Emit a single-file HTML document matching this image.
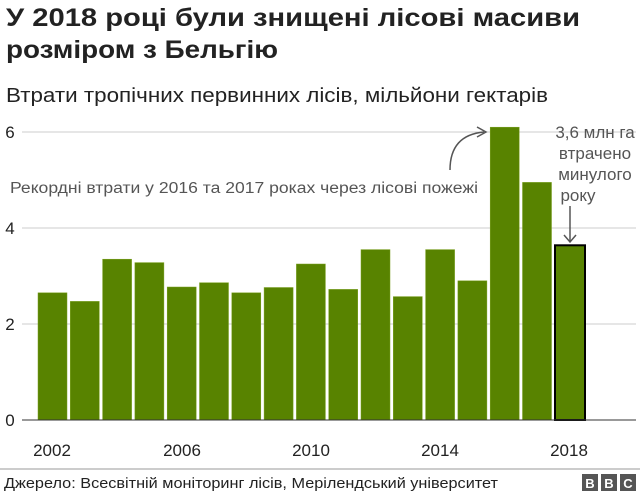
<!DOCTYPE html>
<html><head><meta charset="utf-8"><style>
body{margin:0;width:640px;height:493px;background:#fff;overflow:hidden;font-family:"Liberation Sans",Arial,sans-serif}
</style></head><body>
<svg width="640" height="493" xmlns="http://www.w3.org/2000/svg" font-family="Liberation Sans, Arial, sans-serif">
<text x="6" y="26" font-size="25" font-weight="bold" fill="#222" textLength="574" lengthAdjust="spacingAndGlyphs">У 2018 році були знищені лісові масиви</text>
<text x="6" y="58" font-size="25" font-weight="bold" fill="#222" textLength="272" lengthAdjust="spacingAndGlyphs">розміром з Бельгію</text>
<text x="6" y="102" font-size="20" fill="#222" textLength="542" lengthAdjust="spacingAndGlyphs">Втрати тропічних первинних лісів, мільйони гектарів</text>
<g stroke="#ccc" stroke-width="1">
<line x1="22" x2="636" y1="132" y2="132"/><line x1="22" x2="636" y1="228" y2="228"/><line x1="22" x2="636" y1="324" y2="324"/>
</g>
<g font-size="17" fill="#222" text-anchor="middle">
<text x="10" y="138">6</text><text x="10" y="234">4</text><text x="10" y="330">2</text><text x="10" y="426">0</text>
</g>
<g fill="#588300" stroke="#7aa020" stroke-width="0.5">
<rect x="38" y="292.8" width="29" height="127.2"/>
<rect x="70.3" y="301.4" width="29" height="118.6"/>
<rect x="102.6" y="259.2" width="29" height="160.8"/>
<rect x="134.9" y="262.6" width="29" height="157.4"/>
<rect x="167.2" y="287" width="29" height="133"/>
<rect x="199.5" y="282.7" width="29" height="137.3"/>
<rect x="231.8" y="292.8" width="29" height="127.2"/>
<rect x="264.1" y="287.5" width="29" height="132.5"/>
<rect x="296.4" y="264" width="29" height="156"/>
<rect x="328.7" y="289.4" width="29" height="130.6"/>
<rect x="361" y="249.6" width="29" height="170.4"/>
<rect x="393.3" y="296.6" width="29" height="123.4"/>
<rect x="425.6" y="249.6" width="29" height="170.4"/>
<rect x="457.9" y="280.8" width="29" height="139.2"/>
<rect x="490.2" y="127.2" width="29" height="292.8"/>
<rect x="522.5" y="182.4" width="29" height="237.6"/>
</g>
<rect x="555" y="245.3" width="30" height="174.7" fill="#588300" stroke="#000" stroke-width="2"/>
<line x1="22" x2="636" y1="420" y2="420" stroke="#333" stroke-width="1"/>
<g font-size="17" fill="#222" text-anchor="middle">
<text x="52" y="456">2002</text><text x="182" y="456">2006</text><text x="311" y="456">2010</text><text x="440" y="456">2014</text><text x="569" y="456">2018</text>
</g>
<text x="10" y="193" font-size="15.5" fill="#555" textLength="468" lengthAdjust="spacingAndGlyphs">Рекордні втрати у 2016 та 2017 роках через лісові пожежі</text>
<path d="M450 170 Q450 135 484 132" fill="none" stroke="#555" stroke-width="1.5"/>
<path d="M477 127 L486 132 L477 137" fill="none" stroke="#555" stroke-width="1.5"/>
<g font-size="17" fill="#555" text-anchor="middle">
<text x="595" y="138">3,6 млн га</text><text x="595" y="159">втрачено</text><text x="595" y="180">минулого</text><text x="578" y="201">року</text>
</g>
<line x1="570" y1="206" x2="570" y2="242" stroke="#555" stroke-width="1.5"/>
<path d="M564 235 L570 242 L576 235" fill="none" stroke="#555" stroke-width="1.5"/>
<line x1="0" x2="640" y1="469" y2="469" stroke="#999" stroke-width="1"/>
<text x="4" y="488" font-size="15" fill="#222" textLength="494" lengthAdjust="spacingAndGlyphs">Джерело: Всесвітній моніторинг лісів, Мерілендський університет</text>
<g font-size="13" font-weight="bold" fill="#fff" text-anchor="middle">
<rect x="582" y="474" width="16" height="17" fill="#555"/><text x="590" y="488">B</text>
<rect x="601" y="474" width="16" height="17" fill="#555"/><text x="609" y="488">B</text>
<rect x="620" y="474" width="16" height="17" fill="#555"/><text x="628" y="488">C</text>
</g>
</svg>
</body></html>
